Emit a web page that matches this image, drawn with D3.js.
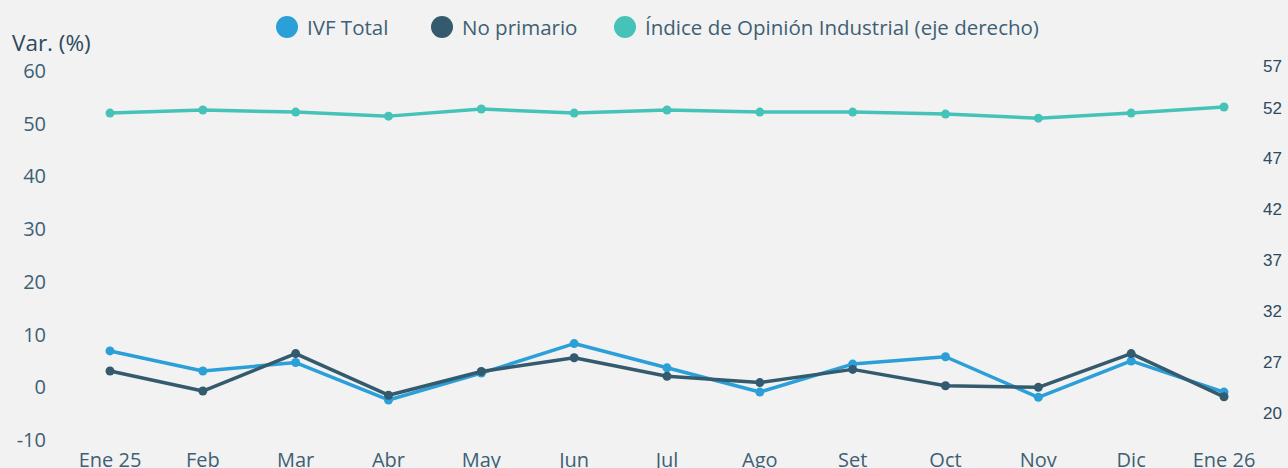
<!DOCTYPE html>
<html>
<head>
<meta charset="utf-8">
<script src="https://cdn.jsdelivr.net/npm/d3@7"></script>
<style>
  html, body { margin: 0; padding: 0; background: #f2f2f2; }
  #container { width: 1288px; height: 468px; overflow: hidden; }
</style>
</head>
<body>
<div id="container"></div>
<script>
const months = ["Ene 25", "Feb", "Mar", "Abr", "May", "Jun", "Jul", "Ago", "Set", "Oct", "Nov", "Dic", "Ene 26"];
const ivfTotal = [6.8, 3.0, 4.6, -2.5, 2.6, 8.2, 3.6, -1.0, 4.3, 5.7, -2.0, 4.9, -1.0];
const noPrimario = [3.0, -0.8, 6.3, -1.6, 2.9, 5.5, 2.0, 0.8, 3.3, 0.2, -0.1, 6.3, -1.9];
const opinionIndex = [51.5, 51.8, 51.6, 51.2, 51.9, 51.5, 51.8, 51.6, 51.6, 51.4, 51.0, 51.5, 52.1];
const leftTicks = [-10, 0, 10, 20, 30, 40, 50, 60];
const rightTicks = [20, 27, 32, 37, 42, 47, 52, 57];
const legendLabels = ["IVF Total", "No primario", "Índice de Opinión Industrial (eje derecho)"];

main();

function main() {
  const width = 1288;
  const height = 468;
  const textColor = "#3e6074";
  const colors = ["#2b9fd8", "#345a6e", "#45c3b8"];
  const font = "'Open Sans', Lato, sans-serif";

  const svg = d3
    .select("#container")
    .append("svg")
    .attr("width", width)
    .attr("height", height);
  svg.append("rect").attr("width", width).attr("height", height).attr("fill", "#f2f2f2");

  const scaleX = d3.scalePoint().domain(months).range([110, 1224]);
  const scaleY = d3.scaleLinear().domain([-10, 60]).range([439.5, 70.5]);
  // right axis: fitted to the middle labels (52 -> 108, 27 -> 362)
  const scaleY2 = d3.scaleLinear().domain([20, 57]).range([108 + 32 * 10.16, 108 - 5 * 10.16]);

  // left axis labels
  svg
    .append("g")
    .selectAll("text")
    .data(leftTicks)
    .join("text")
    .attr("x", 46)
    .attr("y", (d) => scaleY(d))
    .attr("text-anchor", "end")
    .attr("dominant-baseline", "central")
    .attr("font-family", font)
    .attr("font-size", 20)
    .attr("fill", textColor)
    .text((d) => d);

  svg
    .append("text")
    .attr("x", 12)
    .attr("y", 51)
    .attr("font-family", font)
    .attr("font-size", 22.5)
    .attr("fill", "#2c4a5c")
    .text("Var. (%)");

  // right axis labels (kept inside the plot band)
  svg
    .append("g")
    .selectAll("text")
    .data(rightTicks)
    .join("text")
    .attr("x", 1263)
    .attr("y", (d) => Math.max(66, Math.min(413, scaleY2(d))))
    .attr("dominant-baseline", "central")
    .attr("font-family", "'Liberation Sans', Arial, sans-serif")
    .attr("font-size", 17)
    .attr("fill", "#2d4a5e")
    .text((d) => d);

  // x labels
  svg
    .append("g")
    .selectAll("text")
    .data(months)
    .join("text")
    .attr("x", (d) => scaleX(d))
    .attr("y", 467)
    .attr("text-anchor", "middle")
    .attr("font-family", font)
    .attr("font-size", 20)
    .attr("fill", textColor)
    .text((d) => d);

  const series = [
    { values: opinionIndex, scale: scaleY2, color: colors[2] },
    { values: ivfTotal, scale: scaleY, color: colors[0] },
    { values: noPrimario, scale: scaleY, color: colors[1] },
  ];

  series.forEach((s) => {
    const line = d3
      .line()
      .x((d, i) => scaleX(months[i]))
      .y((d) => s.scale(d));
    const g = svg.append("g");
    g.append("path")
      .attr("d", line(s.values))
      .attr("fill", "none")
      .attr("stroke", s.color)
      .attr("stroke-width", 3.5)
      .attr("stroke-linejoin", "round");
    g.selectAll("circle")
      .data(s.values)
      .join("circle")
      .attr("cx", (d, i) => scaleX(months[i]))
      .attr("cy", (d) => s.scale(d))
      .attr("r", 4.5)
      .attr("fill", s.color);
  });

  // legend
  const legendX = [287, 442, 625];
  const legend = svg
    .append("g")
    .selectAll("g")
    .data(legendLabels)
    .join("g")
    .attr("transform", (d, i) => `translate(${legendX[i]}, 27)`);
  legend
    .append("circle")
    .attr("r", 11)
    .attr("fill", (d, i) => colors[i]);
  legend
    .append("text")
    .attr("x", 20)
    .attr("dominant-baseline", "central")
    .attr("font-family", font)
    .attr("font-size", 20.5)
    .attr("fill", textColor)
    .text((d) => d);
}
</script>
</body>
</html>
